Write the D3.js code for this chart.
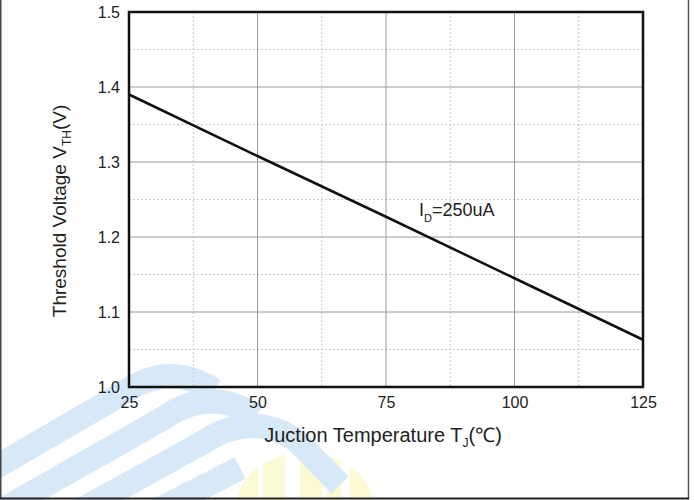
<!DOCTYPE html>
<html>
<head>
<meta charset="utf-8">
<script src="https://cdn.jsdelivr.net/npm/d3@7"></script>
<style>
  html, body { margin: 0; padding: 0; background: #fff; }
  svg { display: block; }
  text { font-family: "Liberation Sans", Arial, sans-serif; fill: #222; }
</style>
</head>
<body>
<svg id="chart" width="694" height="500"></svg>
<script>
// ---- data ----
const temperature = [25, 50, 75, 100, 125];          // Tj (°C)
const thresholdV  = [1.390, 1.308, 1.227, 1.145, 1.063]; // VTH (V), ID = 250uA
const xTicks = [25, 50, 75, 100, 125];
const yTicks = [1.0, 1.1, 1.2, 1.3, 1.4, 1.5];
const xMinor = [37.5, 62.5, 87.5, 112.5];
const yMinor = [1.05, 1.15, 1.25, 1.35, 1.45];

const svg = d3.select("#chart");
const L = 129, R = 643, T = 12, B = 387;

const x = d3.scaleLinear().domain([25, 125]).range([L, R]);
const y = d3.scaleLinear().domain([1.0, 1.5]).range([B, T]);

// ---- faint watermark (decoration) ----
const wm = svg.append("g").attr("class", "watermark");
const defs = svg.append("defs");
defs.append("clipPath").attr("id", "dome")
  .append("ellipse").attr("cx", 305).attr("cy", 505).attr("rx", 68).attr("ry", 52);
const yel = wm.append("g").attr("clip-path", "url(#dome)");
[[236, 22], [263, 22], [300, 22], [327, 14], [350, 25]].forEach(([sx, sw]) => {
  yel.append("rect").attr("x", sx).attr("y", 440).attr("width", sw).attr("height", 70)
    .attr("fill", "#fcfad3");
});
const bands = [
  "M -30,482 L 120,395 Q 168,360 214,390",
  "M -30,528 L 162,419 Q 210,385 256,416",
  "M -10,560 L 202,443 Q 250,410 296,440 L 340,485",
  "M 40,570 L 240,468"
];
bands.forEach(d => {
  wm.append("path").attr("d", d).attr("fill", "none")
    .attr("stroke", "#d7e9f9").attr("stroke-width", 24)
    .attr("stroke-linecap", "butt").attr("stroke-linejoin", "round");
});

// ---- outer frame ----
svg.append("line").attr("x1", 0.75).attr("x2", 0.75).attr("y1", 0).attr("y2", 499)
  .attr("stroke", "#444").attr("stroke-width", 1.5);
svg.append("line").attr("x1", 688.5).attr("x2", 688.5).attr("y1", 0).attr("y2", 499)
  .attr("stroke", "#555").attr("stroke-width", 1.5);
svg.append("line").attr("x1", 0).attr("x2", 689).attr("y1", 498.5).attr("y2", 498.5)
  .attr("stroke", "#222").attr("stroke-width", 2);

// ---- grid ----
const grid = svg.append("g");
grid.selectAll(".vminor").data(xMinor).join("line")
  .attr("x1", d => x(d)).attr("x2", d => x(d)).attr("y1", T).attr("y2", B)
  .attr("stroke", "#c8c8c8").attr("stroke-width", 1).attr("stroke-dasharray", "2,2");
grid.selectAll(".hminor").data(yMinor).join("line")
  .attr("x1", L).attr("x2", R).attr("y1", d => y(d)).attr("y2", d => y(d))
  .attr("stroke", "#c8c8c8").attr("stroke-width", 1).attr("stroke-dasharray", "2,2");
grid.selectAll(".vmajor").data(xTicks.slice(1, -1)).join("line")
  .attr("x1", d => x(d)).attr("x2", d => x(d)).attr("y1", T).attr("y2", B)
  .attr("stroke", "#9a9a9a").attr("stroke-width", 1);
grid.selectAll(".hmajor").data(yTicks.slice(1, -1)).join("line")
  .attr("x1", L).attr("x2", R).attr("y1", d => y(d)).attr("y2", d => y(d))
  .attr("stroke", "#9a9a9a").attr("stroke-width", 1);

// ---- axes (labels only, via d3 axes) ----
const xAxis = svg.append("g").attr("transform", `translate(0,${B})`)
  .call(d3.axisBottom(x).tickValues(xTicks).tickSize(0).tickPadding(10).tickFormat(d3.format("d")));
const yAxis = svg.append("g").attr("transform", `translate(${L},0)`)
  .call(d3.axisLeft(y).tickValues(yTicks).tickSize(0).tickPadding(9).tickFormat(d3.format(".1f")));
[xAxis, yAxis].forEach(a => {
  a.select(".domain").remove();
  a.selectAll("text").attr("font-size", 16).attr("fill", "#2a2a2a")
    .attr("font-family", "'Liberation Sans', Arial, sans-serif");
});

// ---- plot border ----
svg.append("rect").attr("x", L).attr("y", T).attr("width", R - L).attr("height", B - T)
  .attr("fill", "none").attr("stroke", "#111").attr("stroke-width", 2.5);

// ---- data line ----
const line = d3.line().x((d, i) => x(temperature[i])).y(d => y(d));
svg.append("path").datum(thresholdV).attr("d", line)
  .attr("fill", "none").attr("stroke", "#111").attr("stroke-width", 2.5);

// ---- annotation ----
const ann = svg.append("text").attr("x", 419).attr("y", 216).attr("font-size", 18);
ann.append("tspan").text("I");
ann.append("tspan").attr("font-size", 11).attr("dy", 6).text("D");
ann.append("tspan").attr("dy", -6).text("=250uA");

// ---- axis titles ----
const xt = svg.append("text").attr("x", 383).attr("y", 442).attr("text-anchor", "middle").attr("font-size", 20);
xt.append("tspan").text("Juction Temperature T");
xt.append("tspan").attr("font-size", 12).attr("dy", 5).text("J");
xt.append("tspan").attr("dy", -5).text("(℃)");

const yt = svg.append("text").attr("transform", "translate(66,211) rotate(-90)")
  .attr("text-anchor", "middle").attr("font-size", 19);
yt.append("tspan").text("Threshold Voltage V");
yt.append("tspan").attr("font-size", 12).attr("dy", 5).text("TH");
yt.append("tspan").attr("dy", -5).text("(V)");
</script>
</body>
</html>
